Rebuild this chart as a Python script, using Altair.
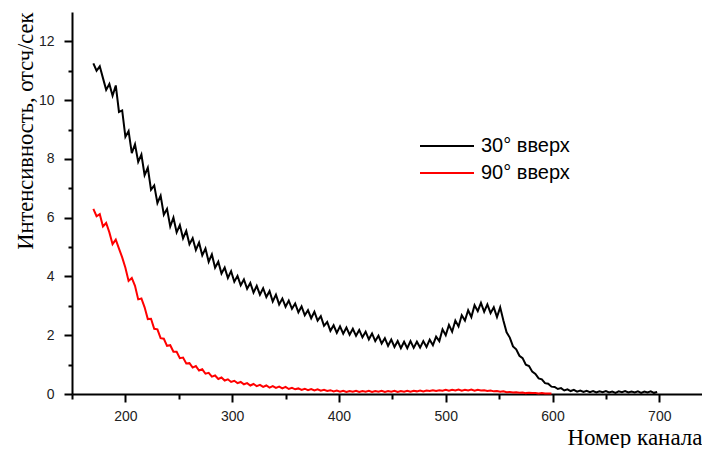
import altair as alt
import pandas as pd

# ---- data ----
channels_30 = list(range(170, 699, 3))
counts_30 = [
    11.25, 11.0, 11.15, 10.75, 10.35, 10.55, 10.15, 10.5, 9.6, 9.65,
    8.75, 8.95, 8.2, 8.5, 7.9, 8.15, 7.45, 7.7, 6.95, 7.1,
    6.5, 6.75, 6.1, 6.3, 5.7, 6.0, 5.5, 5.75, 5.3, 5.55,
    5.1, 5.3, 4.9, 5.15, 4.72, 4.95, 4.5, 4.75, 4.3, 4.5,
    4.1, 4.3, 3.95, 4.18, 3.82, 4.02, 3.7, 3.9, 3.58, 3.78,
    3.45, 3.68, 3.38, 3.6, 3.3, 3.5, 3.15, 3.38, 3.05, 3.25,
    2.97, 3.18, 2.9, 3.08, 2.78, 2.98, 2.68, 2.85, 2.58, 2.8,
    2.5, 2.65, 2.32, 2.45, 2.15, 2.34, 2.08, 2.3, 2.05, 2.26,
    2.02, 2.22, 1.98, 2.18, 1.93, 2.12, 1.86, 2.06, 1.8, 1.98,
    1.72, 1.9, 1.64, 1.85, 1.6, 1.8, 1.56, 1.78, 1.56, 1.8,
    1.57, 1.78, 1.58, 1.8, 1.6, 1.85, 1.66, 1.95, 1.8, 2.2,
    2.0, 2.35, 2.12, 2.5, 2.3, 2.68, 2.5, 2.85, 2.62, 3.02,
    2.82, 3.1, 2.8, 3.05, 2.75, 2.95, 2.62, 2.95, 2.5, 2.1,
    1.92, 1.62, 1.52, 1.3, 1.22, 1.0, 0.95, 0.76, 0.68, 0.53,
    0.5, 0.37, 0.35, 0.25, 0.24, 0.17, 0.2, 0.12, 0.16, 0.1,
    0.14, 0.08, 0.12, 0.07,
    0.11, 0.06, 0.1, 0.05, 0.09, 0.06, 0.1, 0.05, 0.08, 0.04,
    0.09, 0.06, 0.1, 0.05, 0.08, 0.05, 0.09, 0.04, 0.08, 0.05,
    0.09, 0.04, 0.07,
]
channels_90 = list(range(170, 600, 3))
counts_90 = [
    6.3, 6.05, 6.12, 5.7, 5.82, 5.5, 5.1, 5.25, 4.95, 4.65,
    4.3, 3.85, 3.95, 3.68, 3.22, 3.25, 2.95, 2.55, 2.56, 2.22,
    2.2, 1.9, 1.88, 1.64, 1.66, 1.44, 1.44, 1.22, 1.24, 1.04,
    1.05, 0.9, 0.95, 0.8, 0.84, 0.69, 0.72, 0.59, 0.63, 0.51,
    0.56, 0.46, 0.5, 0.41, 0.45, 0.37, 0.41, 0.33, 0.37, 0.29,
    0.34, 0.27, 0.31, 0.24, 0.29, 0.22, 0.27, 0.21, 0.25, 0.19,
    0.24, 0.17, 0.21, 0.16, 0.19, 0.14, 0.18, 0.13, 0.17, 0.12,
    0.16, 0.11, 0.14, 0.1, 0.13, 0.09, 0.12,
    0.08, 0.11, 0.07, 0.1, 0.08, 0.11, 0.07, 0.1, 0.08, 0.11,
    0.07, 0.1, 0.08, 0.11, 0.07, 0.1, 0.08, 0.11, 0.07, 0.1,
    0.08, 0.11, 0.08, 0.11, 0.09, 0.12, 0.09, 0.12, 0.1, 0.13,
    0.1, 0.13, 0.11, 0.14, 0.11, 0.14, 0.12, 0.15, 0.11, 0.14,
    0.12, 0.15, 0.11, 0.14, 0.12, 0.13, 0.1, 0.12, 0.09, 0.1,
    0.08, 0.09, 0.06, 0.07, 0.05, 0.06, 0.04, 0.05, 0.03, 0.04,
    0.03, 0.03, 0.02, 0.03, 0.02, 0.02, 0.02,
]
series_names = ["30° вверх", "90° вверх"]
series_colors = ["#000000", "#ff0000"]
x_ticks = [150, 200, 250, 300, 350, 400, 450, 500, 550, 600, 650, 700]
y_ticks = list(range(0, 13))
x_title = "Номер канала"
y_title = "Интенсивность, отсч/сек"

assert len(channels_30) == len(counts_30), (len(channels_30), len(counts_30))
assert len(channels_90) == len(counts_90), (len(channels_90), len(counts_90))

df = pd.concat([
    pd.DataFrame({"channel": channels_30, "value": counts_30, "series": series_names[0], "order": 0}),
    pd.DataFrame({"channel": channels_90, "value": counts_90, "series": series_names[1], "order": 1}),
])

chart = alt.Chart(df).mark_line(strokeWidth=2).encode(
    x=alt.X(
        "channel:Q",
        scale=alt.Scale(domain=[150, 740], nice=False, zero=False),
        axis=alt.Axis(
            values=x_ticks,
            labelExpr="datum.value % 100 == 0 ? datum.label : ''",
            tickSize={"condition": {"test": "datum.value % 100 != 0", "value": 5}, "value": 8},
            labelPadding=7,
            title=x_title,
            titleFont="Liberation Serif",
            titleFontSize=23,
            titleFontWeight="normal",
            titleColor="#000000",
            titleAnchor="end",
            titleAlign="right",
            titleBaseline="alphabetic",
            titleX=630,
            titleY=50,
        ),
    ),
    y=alt.Y(
        "value:Q",
        scale=alt.Scale(domain=[0, 13], nice=False),
        axis=alt.Axis(
            values=y_ticks,
            labelExpr="datum.value % 2 == 0 ? datum.label : ''",
            tickSize={"condition": {"test": "datum.value % 2 != 0", "value": 4}, "value": 8},
            labelPadding=10,
            title=y_title,
            titleFont="Liberation Serif",
            titleFontSize=22.5,
            titleFontWeight="normal",
            titleColor="#000000",
            titleAngle=270,
            titleAlign="right",
            titleBaseline="alphabetic",
            titleX=-40,
            titleY=0,
        ),
    ),
    color=alt.Color(
        "series:N",
        scale=alt.Scale(domain=series_names, range=series_colors),
        legend=alt.Legend(
            title=None,
            orient="none",
            legendX=347,
            legendY=124,
            symbolType="stroke",
            symbolSize=2916,
            symbolStrokeWidth=2,
            clipHeight=20,
            rowPadding=7,
            labelFont="Liberation Sans",
            labelFontSize=20,
            labelColor="#000000",
            labelOffset=6,
            padding=0,
        ),
    ),
    order=alt.Order("order:Q"),
).properties(
    width=630,
    height=382,
    autosize="none",
    padding={"left": 64, "top": 4, "right": 0, "bottom": 54},
).configure_view(
    stroke=None,
).configure_axis(
    grid=False,
    domainColor="#000000",
    domainWidth=2,
    tickColor="#000000",
    tickWidth=2,
    labelFont="Liberation Sans",
    labelFontSize=14,
    labelColor="#222222",
)

chart.save("out.html", embed_options={"renderer": "svg", "actions": False})
